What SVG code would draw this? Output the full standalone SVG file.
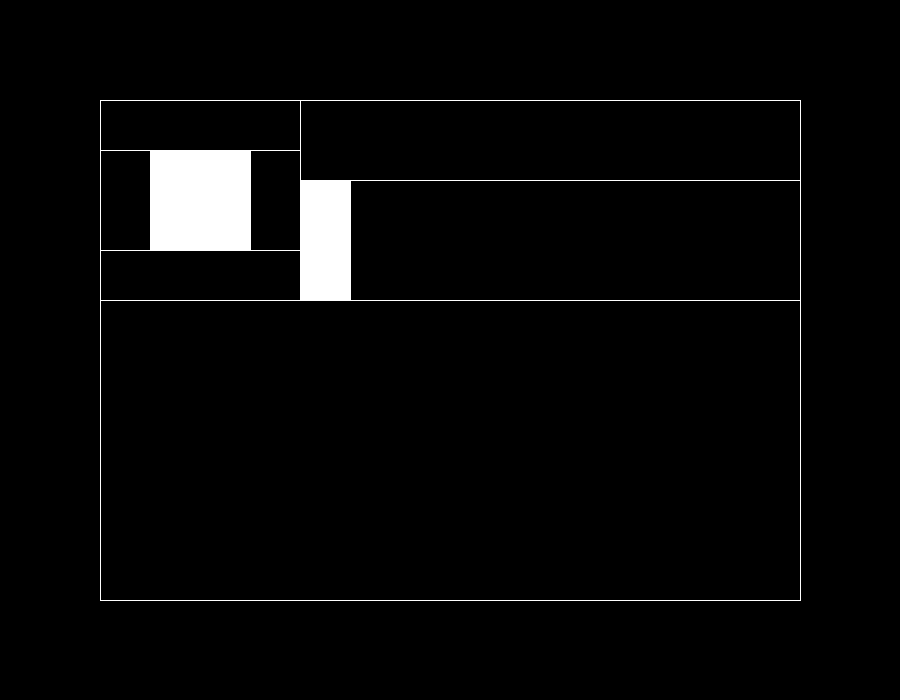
<svg xmlns="http://www.w3.org/2000/svg" width="900" height="700" viewBox="0 0 900 700">
  <style>
    .cell { fill: #000; stroke: #fff; stroke-width: 1; }
    .solid { fill: #fff; stroke: #fff; stroke-width: 1; }
  </style>
  <rect x="0" y="0" width="900" height="700" fill="#000"/>
  <g id="outer"><rect class="cell" x="100.5" y="100.5" width="700" height="500"/></g>
  <g id="bottom"><rect class="cell" x="100.5" y="300.5" width="700" height="300"/></g>
  <g id="topleft-top"><rect class="cell" x="100.5" y="100.5" width="200" height="50"/></g>
  <g id="topleft-mid-left"><rect class="cell" x="100.5" y="150.5" width="50" height="100"/></g>
  <g id="topleft-center"><rect class="solid" x="150.5" y="150.5" width="100" height="100"/></g>
  <g id="topleft-mid-right"><rect class="cell" x="250.5" y="150.5" width="50" height="100"/></g>
  <g id="topleft-bottom"><rect class="cell" x="100.5" y="250.5" width="200" height="50"/></g>
  <g id="topright-top"><rect class="cell" x="300.5" y="100.5" width="500" height="80"/></g>
  <g id="topright-bar"><rect class="solid" x="300.5" y="180.5" width="50" height="119.5"/></g>
  <g id="topright-main"><rect class="cell" x="350.5" y="180.5" width="450" height="120"/></g>
  <g id="connectors"></g>
</svg>
